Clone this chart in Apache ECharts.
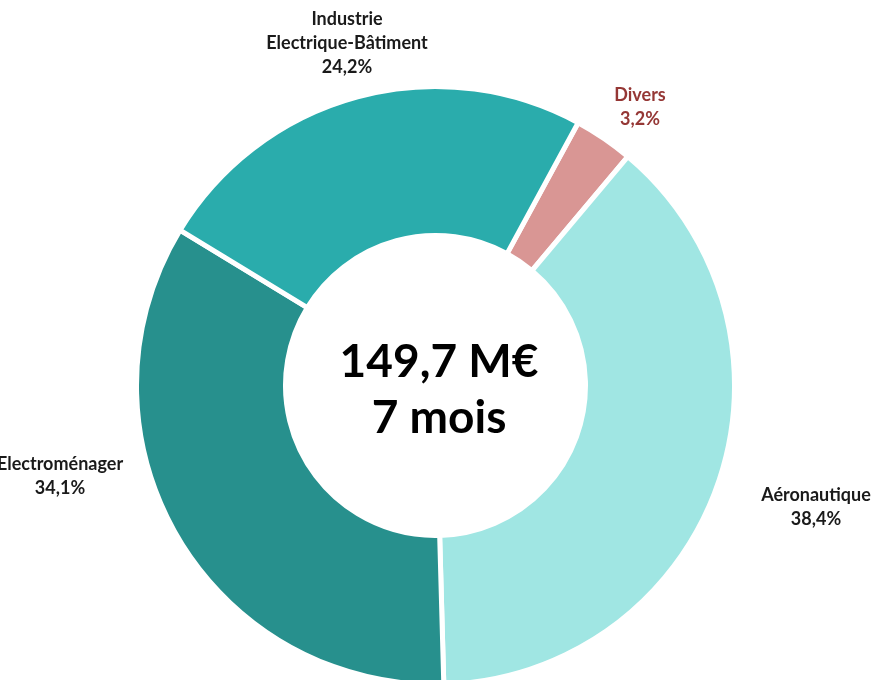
<!DOCTYPE html>
<html>
<head>
<meta charset="utf-8">
<script src="https://cdn.jsdelivr.net/npm/echarts@6/dist/echarts.min.js"></script>
<style>html,body{margin:0;padding:0;background:#fff}#c{width:888px;height:680px}</style>
</head>
<body>
<div id="c"></div>
<script>
// Data
const categories = ['Divers', 'Aéronautique', 'Electroménager', 'Industrie\nElectrique-Bâtiment'];
const shares = [3.2, 38.4, 34.1, 24.2];
const centerLines = ['149,7 M€', '7 mois'];

// Styles
const colors = ['#D99694', '#A0E6E3', '#27908D', '#2AACAC'];
const labelColors = ['#953735', '#1a1a1a', '#1a1a1a', '#1a1a1a'];
const labelAnchors = [[640, 107], [816, 507], [60, 476], [347, 43]];

const chart = echarts.init(document.getElementById('c'), null, {renderer: 'canvas'});
chart.setOption({
  animation: false,
  backgroundColor: '#ffffff',
  graphic: [{
    type: 'text',
    x: 439, y: 390,
    style: {
      text: centerLines.join('\n'),
      font: 'bold 46px Lato',
      lineHeight: 56,
      fill: '#000',
      align: 'center',
      verticalAlign: 'middle'
    }
  }],
  series: [{
    type: 'pie',
    center: [435.5, 385.5],
    radius: [150, 299],
    startAngle: 61.5,
    clockwise: true,
    avoidLabelOverlap: false,
    itemStyle: {borderColor: '#ffffff', borderWidth: 5},
    labelLine: {show: false},
    label: {
      show: true,
      position: 'outside',
      fontFamily: 'Lato',
      fontWeight: 'bold',
      fontSize: 18,
      lineHeight: 24,
      align: 'center',
      formatter: p => p.name + '\n' + String(p.value).replace('.', ',') + '%'
    },
    labelLayout: p => ({
      x: labelAnchors[p.dataIndex][0],
      y: labelAnchors[p.dataIndex][1],
      align: 'center',
      verticalAlign: 'middle'
    }),
    emphasis: {disabled: true},
    data: categories.map((c, i) => ({
      name: c,
      value: shares[i],
      itemStyle: {color: colors[i]},
      label: {color: labelColors[i]}
    }))
  }]
});
</script>
</body>
</html>
